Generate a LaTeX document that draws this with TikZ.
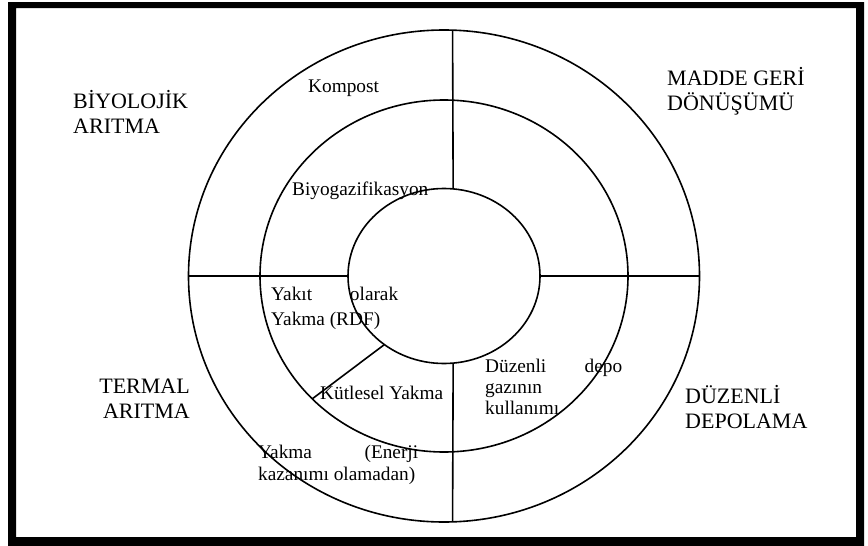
\documentclass[tikz,border=0pt]{standalone}
\usepackage{fontspec}
\setmainfont{Liberation Serif}
\usetikzlibrary{shapes.geometric}

\begin{document}
\begin{tikzpicture}[x=1pt, y=-1pt,
    ring/.style={ellipse, draw, line width=1.6pt, inner sep=0pt, outer sep=0pt},
    part/.style={draw, line width=1.6pt},
    big/.style={inner sep=0pt, font=\fontsize{22}{25}\selectfont},
    small/.style={inner sep=0pt, font=\fontsize{19.3}{22}\selectfont}
  ]
  % frame
  \fill[white] (0,0) rectangle (868,546);
  \fill[black, even odd rule] (8,2) rectangle (864,546) (16,8) rectangle (856,537);

  % rings
  \node[ring, minimum width=511pt, minimum height=492pt] (outer) at (444,276) {};
  \node[ring, minimum width=368pt, minimum height=352pt] (mid) at (444,276) {};
  \node[ring, minimum width=192pt, minimum height=175pt] (core) at (444,276) {};

  \draw[part] (outer.88) -- (core.84);
  \draw[part] (core.-84) -- (outer.-88);
  \draw[part] (outer.180) -- (core.180);
  \draw[part] (core.0) -- (outer.0);
  \draw[part] (core.229) -- (mid.223);

  % labels inside (base = last line)
  \node[small, anchor=base west] (komp) at (308,92) {Kompost};
  \node[small, anchor=base west] (biyo) at (292,195) {Biyogazifikasyon};
  \node[small, anchor=base west, align=left] (rdf) at (271,325) {\makebox[127pt]{Yakıt\hfill olarak}\\[3pt]Yakma (RDF)};
  \node[small, anchor=base west] (kut) at (320,399) {Kütlesel Yakma};
  \node[small, anchor=base west, align=left] (gaz) at (485,414) {\makebox[137pt]{Düzenli\hfill depo}\\[-1pt]gazının\\[-1pt]kullanımı};
  \node[small, anchor=base west, align=left] (enr) at (258,480) {\makebox[160pt]{Yakma\hfill(Enerji}\\kazanımı olamadan)};

  % labels outside
  \node[big, anchor=base west, align=left] (bio) at (73,133) {BİYOLOJİK\\ARITMA};
  \node[big, anchor=base west, align=left] (mad) at (667,110) {MADDE GERİ\\DÖNÜŞÜMÜ};
  \node[big, anchor=base east, align=right] (ter) at (190,418) {TERMAL\\ARITMA};
  \node[big, anchor=base west, align=left] (duz) at (685,428) {DÜZENLİ\\DEPOLAMA};
\end{tikzpicture}
\end{document}
